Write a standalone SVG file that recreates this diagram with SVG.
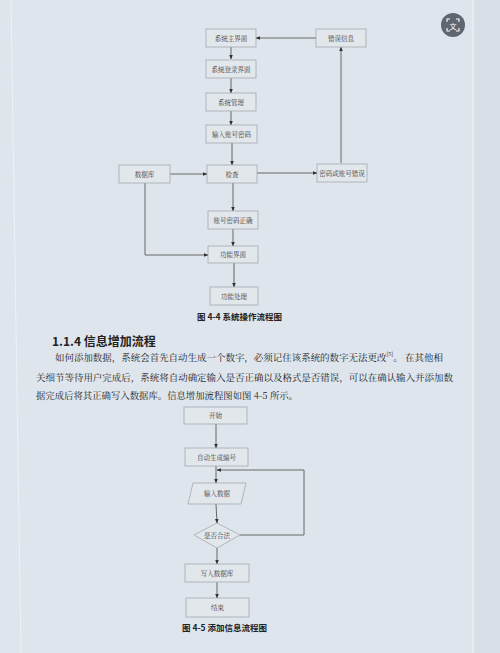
<svg xmlns="http://www.w3.org/2000/svg" width="500" height="653" viewBox="0 0 500 653">
<defs>
<marker id="ah" viewBox="0 0 10 10" refX="9" refY="5" markerWidth="5" markerHeight="5" orient="auto-start-reverse">
<path d="M0,1 L10,5 L0,9 z" fill="#333"/>
</marker>
<style>
.box{fill:#e2e7ec;stroke:#a4aab0;stroke-width:0.8}
.bt{font-family:"Noto Serif CJK SC","Noto Sans CJK SC","Liberation Serif",serif;font-size:6.5px;fill:#3a3a3a;text-anchor:middle;dominant-baseline:central}
.ln{fill:none;stroke:#5a5a5a;stroke-width:0.9;marker-end:url(#ah)}
.cap{font-family:"Noto Sans CJK SC",sans-serif;font-size:8.5px;font-weight:bold;fill:#222;dominant-baseline:central}
.para{font-family:"Noto Serif CJK SC","Noto Sans CJK SC",serif;font-size:9.5px;fill:#222;dominant-baseline:central}
</style>
</defs>
<rect width="500" height="653" fill="#dfe5ec"/>
<rect x="473" y="0" width="27" height="653" fill="#d8dfe7"/>
<line x1="473" y1="0" x2="473" y2="653" stroke="#eef2f6" stroke-width="1.2"/>
<line x1="11" y1="0" x2="21" y2="653" stroke="#eef2f6" stroke-width="1"/>
<g id="icon">
<circle cx="453" cy="25" r="12" fill="#5f6670"/>
<path d="M447,22 v-3 h3 M456,19 h3 v3 M459,28 v3 h-3 M450,31 h-3 v-3" fill="none" stroke="#fff" stroke-width="1.1"/>
<text x="453" y="25.5" font-family="Noto Sans CJK SC,sans-serif" font-size="7" fill="#fff" text-anchor="middle" dominant-baseline="central">文</text>
</g>

<g id="connectors">
<line class="ln" x1="231" y1="47" x2="231" y2="59"/>
<line class="ln" x1="231" y1="78" x2="231" y2="93"/>
<line class="ln" x1="231" y1="111" x2="231" y2="125"/>
<line class="ln" x1="232" y1="143" x2="232" y2="165"/>
<line class="ln" x1="233" y1="183" x2="233" y2="211"/>
<line class="ln" x1="233" y1="229" x2="233" y2="246"/>
<line class="ln" x1="234" y1="263" x2="234" y2="287"/>
<line class="ln" x1="170" y1="174" x2="207" y2="174"/>
<line class="ln" x1="257" y1="173" x2="317" y2="173"/>
<line class="ln" x1="341" y1="163" x2="341" y2="47"/>
<line class="ln" x1="316" y1="38" x2="256" y2="38"/>
<polyline class="ln" points="145,183 145,255 208,255"/>

<line class="ln" x1="216" y1="424" x2="216" y2="448"/>
<line class="ln" x1="216" y1="466" x2="216" y2="483"/>
<line class="ln" x1="216" y1="504" x2="217" y2="523"/>
<line class="ln" x1="217" y1="548" x2="217" y2="564"/>
<line class="ln" x1="217" y1="582" x2="217" y2="598"/>
<polyline class="ln" points="240,535 304,535 304,470 217,470"/>
</g>

<g id="n_main"><rect class="box" x="206" y="29" width="50" height="18"/><text class="bt" x="231" y="38">系统主界面</text></g>
<g id="n_err"><rect class="box" x="316" y="29" width="50" height="18"/><text class="bt" x="341" y="38">错误信息</text></g>
<g id="n_login"><rect class="box" x="206" y="60" width="50" height="18"/><text class="bt" x="231" y="69">系统登录界面</text></g>
<g id="n_mgmt"><rect class="box" x="206" y="93" width="50" height="18"/><text class="bt" x="231" y="102">系统管理</text></g>
<g id="n_input"><rect class="box" x="206" y="125" width="51" height="18"/><text class="bt" x="231.5" y="134">输入账号密码</text></g>
<g id="n_db"><rect class="box" x="119" y="165" width="51" height="18"/><text class="bt" x="144.5" y="174">数据库</text></g>
<g id="n_check"><rect class="box" x="207" y="165" width="50" height="18"/><text class="bt" x="232" y="174">检查</text></g>
<g id="n_wrong"><rect class="box" x="317" y="164" width="50" height="18"/><text class="bt" x="342" y="173">密码或账号错误</text></g>
<g id="n_ok"><rect class="box" x="208" y="211" width="50" height="18"/><text class="bt" x="233" y="220">账号密码正确</text></g>
<g id="n_func"><rect class="box" x="208" y="246" width="50" height="17"/><text class="bt" x="233" y="254.5">功能界面</text></g>
<g id="n_proc"><rect class="box" x="210" y="287" width="48" height="18"/><text class="bt" x="234" y="296">功能处理</text></g>

<text class="cap" x="197" y="316">图 4-4 系统操作流程图</text>

<text x="52" y="340" font-family="Noto Sans CJK SC,sans-serif" font-size="12" font-weight="bold" fill="#222" dominant-baseline="central">1.1.4 信息增加流程</text>
<text class="para" x="55" y="357" textLength="388" lengthAdjust="spacingAndGlyphs">如何添加数据，系统会首先自动生成一个数字，必须记住该系统的数字无法更改<tspan font-size="5.5" dy="-3">[5]</tspan><tspan dy="3">。 在其他相</tspan></text>
<text class="para" x="36" y="377" textLength="417" lengthAdjust="spacingAndGlyphs">关细节等待用户完成后，系统将自动确定输入是否正确以及格式是否错误，可以在确认输入并添加数</text>
<text class="para" x="36" y="395" textLength="262" lengthAdjust="spacingAndGlyphs">据完成后将其正确写入数据库。信息增加流程图如图 4-5 所示。</text>

<g id="n_start"><rect class="box" x="184" y="407" width="63" height="17"/><text class="bt" x="215.5" y="415.5">开始</text></g>
<g id="n_gen"><rect class="box" x="185" y="448" width="63" height="18"/><text class="bt" x="216.5" y="457">自动生成编号</text></g>
<g id="n_data"><polygon class="box" points="193,483 246,483 241,504 188,504"/><text class="bt" x="217" y="493.5">输入数据</text></g>
<g id="n_valid"><polygon class="box" points="217,523 240,535 217,548 194,535"/><text class="bt" x="217" y="535.5">是否合法</text></g>
<g id="n_write"><rect class="box" x="185" y="564" width="64" height="18"/><text class="bt" x="217" y="573">写入数据库</text></g>
<g id="n_end"><rect class="box" x="186" y="598" width="63" height="19"/><text class="bt" x="217.5" y="607.5">结束</text></g>

<text class="cap" x="182" y="627">图 4-5 添加信息流程图</text>
</svg>
